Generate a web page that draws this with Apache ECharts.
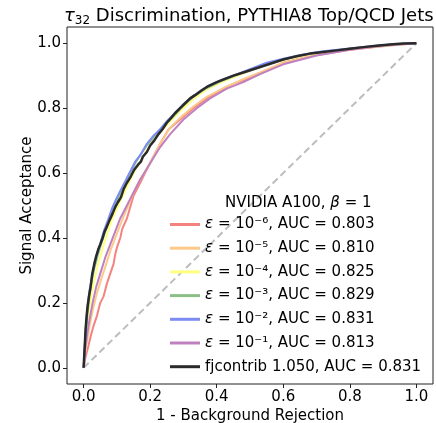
<!DOCTYPE html>
<html>
<head>
<meta charset="utf-8">
<script src="https://cdn.jsdelivr.net/npm/echarts@6/dist/echarts.min.js"></script>
<style>
  html, body { margin: 0; padding: 0; background: #fff; }
  #chart { width: 436px; height: 423px; }
</style>
</head>
<body>
<div id="chart"></div>
<script>
// ROC curves: x = 1 - background rejection, y = signal acceptance

const tickValues = [0.0, 0.2, 0.4, 0.6, 0.8, 1.0]

// eps = 1e-6
const bkgE6 = [0, 0.005, 0.01, 0.015, 0.022, 0.03, 0.04, 0.05, 0.06, 0.07, 0.08, 0.09, 0.095, 0.1, 0.11, 0.116, 0.13, 0.15, 0.17, 0.2, 0.23, 0.255, 0.29, 0.33, 0.37, 0.41, 0.45, 0.5, 0.55, 0.6, 0.68, 0.8, 0.92, 1.0]
const sigE6 = [0, 0.03, 0.05, 0.07, 0.10, 0.13, 0.16, 0.20, 0.22, 0.26, 0.29, 0.32, 0.35, 0.37, 0.40, 0.428, 0.46, 0.53, 0.57, 0.632, 0.69, 0.734, 0.765, 0.80, 0.83, 0.855, 0.875, 0.893, 0.915, 0.94, 0.96, 0.98, 0.993, 1.0]

// eps = 1e-5
const bkgE5 = [0, 0.004, 0.01, 0.018, 0.028, 0.04, 0.055, 0.065, 0.08, 0.095, 0.11, 0.13, 0.15, 0.17, 0.2, 0.23, 0.26, 0.29, 0.33, 0.37, 0.42, 0.47, 0.53, 0.6, 0.7, 0.8, 0.9, 1.0]
const sigE5 = [0, 0.04, 0.08, 0.13, 0.18, 0.23, 0.28, 0.31, 0.36, 0.40, 0.44, 0.49, 0.54, 0.58, 0.63, 0.69, 0.74, 0.77, 0.805, 0.835, 0.862, 0.885, 0.91, 0.94, 0.965, 0.98, 0.992, 1.0]

// eps = 1e-4, 1e-3, 1e-2 share the same x samples
const bkgMid = [0, 0.003, 0.007, 0.012, 0.018, 0.025, 0.033, 0.042, 0.052, 0.062, 0.073, 0.085, 0.098, 0.11, 0.125, 0.14, 0.155, 0.17, 0.19, 0.21, 0.23, 0.25, 0.275, 0.3, 0.33, 0.37, 0.41, 0.45, 0.5, 0.55, 0.6, 0.66, 0.72, 0.8, 0.88, 0.95, 1.0]
const sigE4 = [0, 0.04, 0.09, 0.14, 0.19, 0.235, 0.275, 0.315, 0.35, 0.385, 0.42, 0.455, 0.485, 0.515, 0.545, 0.58, 0.61, 0.635, 0.67, 0.70, 0.725, 0.748, 0.775, 0.80, 0.828, 0.858, 0.878, 0.895, 0.915, 0.935, 0.948, 0.962, 0.973, 0.983, 0.991, 0.997, 1.0]
const sigE3 = [0, 0.05, 0.11, 0.17, 0.225, 0.27, 0.31, 0.345, 0.38, 0.41, 0.445, 0.48, 0.51, 0.54, 0.57, 0.60, 0.63, 0.655, 0.685, 0.71, 0.73, 0.755, 0.78, 0.808, 0.835, 0.862, 0.882, 0.898, 0.918, 0.938, 0.95, 0.964, 0.974, 0.983, 0.991, 0.997, 1.0]
const sigE2 = [0, 0.06, 0.13, 0.19, 0.24, 0.28, 0.32, 0.355, 0.39, 0.425, 0.455, 0.49, 0.52, 0.545, 0.575, 0.605, 0.635, 0.655, 0.69, 0.715, 0.735, 0.76, 0.785, 0.812, 0.838, 0.866, 0.885, 0.90, 0.92, 0.94, 0.952, 0.965, 0.975, 0.984, 0.992, 0.998, 1.0]

// eps = 1e-1
const bkgE1 = [0, 0.004, 0.01, 0.018, 0.027, 0.038, 0.05, 0.065, 0.08, 0.095, 0.11, 0.13, 0.15, 0.17, 0.2, 0.23, 0.26, 0.3, 0.34, 0.38, 0.43, 0.48, 0.53, 0.6, 0.7, 0.8, 0.9, 1.0]
const sigE1 = [0, 0.05, 0.10, 0.15, 0.20, 0.25, 0.29, 0.34, 0.38, 0.42, 0.46, 0.50, 0.54, 0.58, 0.63, 0.68, 0.72, 0.765, 0.80, 0.83, 0.86, 0.88, 0.905, 0.935, 0.962, 0.98, 0.993, 1.0]

// fjcontrib reference
const bkgFj = [0, 0.002, 0.004, 0.006, 0.009, 0.012, 0.016, 0.021, 0.026, 0.032, 0.038, 0.044, 0.05, 0.057, 0.063, 0.07, 0.078, 0.087, 0.095, 0.103, 0.112, 0.12, 0.13, 0.142, 0.152, 0.163, 0.172, 0.178, 0.19, 0.2, 0.212, 0.225, 0.237, 0.25, 0.263, 0.275, 0.29, 0.305, 0.32, 0.335, 0.355, 0.375, 0.4, 0.425, 0.45, 0.48, 0.51, 0.54, 0.57, 0.6, 0.64, 0.68, 0.72, 0.76, 0.8, 0.84, 0.88, 0.92, 0.96, 1.0]
const sigFj = [0, 0.04, 0.08, 0.12, 0.16, 0.19, 0.22, 0.25, 0.29, 0.32, 0.345, 0.365, 0.38, 0.40, 0.42, 0.435, 0.455, 0.475, 0.495, 0.51, 0.525, 0.55, 0.57, 0.59, 0.61, 0.625, 0.635, 0.65, 0.665, 0.685, 0.70, 0.72, 0.735, 0.755, 0.77, 0.785, 0.80, 0.815, 0.83, 0.84, 0.855, 0.868, 0.88, 0.89, 0.90, 0.91, 0.92, 0.93, 0.94, 0.95, 0.96, 0.968, 0.973, 0.978, 0.983, 0.988, 0.992, 0.996, 0.999, 1.0]

const diagX = [0, 1]
const diagY = [0, 1]

const zip = (xs, ys) => xs.map((x, i) => [x, ys[i]])

const curves = [
  { name: 'e6', label: '{i|ε} = 10⁻⁶, AUC = 0.803', color: '#f4837f', xs: bkgE6, ys: sigE6, w: 2 },
  { name: 'e5', label: '{i|ε} = 10⁻⁵, AUC = 0.810', color: '#fcc98a', xs: bkgE5, ys: sigE5, w: 2 },
  { name: 'e4', label: '{i|ε} = 10⁻⁴, AUC = 0.825', color: '#ffff80', xs: bkgMid, ys: sigE4, w: 2 },
  { name: 'e3', label: '{i|ε} = 10⁻³, AUC = 0.829', color: '#8cbf88', xs: bkgMid, ys: sigE3, w: 2 },
  { name: 'e2', label: '{i|ε} = 10⁻², AUC = 0.831', color: '#7d8cf5', xs: bkgMid, ys: sigE2, w: 2 },
  { name: 'e1', label: '{i|ε} = 10⁻¹, AUC = 0.813', color: '#bf80bf', xs: bkgE1, ys: sigE1, w: 2 },
  { name: 'fj', label: 'fjcontrib 1.050, AUC = 0.831', color: '#2a2a2a', xs: bkgFj, ys: sigFj, w: 2.5 }
]
const labelMap = {}
curves.forEach(c => { labelMap[c.name] = c.label })

const chart = echarts.init(document.getElementById('chart'))

const font = 'DejaVu Sans'

const axisCommon = {
  type: 'value',
  min: -0.05,
  max: 1.05,
  nameLocation: 'middle',
  nameMoveOverlap: false,
  nameTextStyle: { fontFamily: font, fontSize: 15, color: '#000' },
  axisLine: { show: false, onZero: false },
  splitLine: { show: false },
  axisTick: { show: true, length: 4, customValues: tickValues, lineStyle: { color: '#222' } },
  axisLabel: { customValues: tickValues, fontFamily: font, fontSize: 15, color: '#000', margin: 6, formatter: v => v.toFixed(1) }
}

chart.setOption({
  animation: false,
  textStyle: { fontFamily: font },
  title: [
    {
      text: '{t|τ}{s|32} Discrimination, PYTHIA8 Top/QCD Jets',
      left: 59,
      top: 1,
      textStyle: {
        fontFamily: font, fontSize: 18, fontWeight: 'normal', color: '#000',
        rich: {
          t: { fontFamily: font, fontSize: 18, fontStyle: 'italic', color: '#000' },
          s: { fontFamily: font, fontSize: 12, color: '#000', verticalAlign: 'bottom', padding: [9, 0, 0, 0] }
        }
      }
    },
    {
      text: 'NVIDIA A100, {i|β} = 1',
      left: 220,
      top: 191,
      textStyle: {
        fontFamily: font, fontSize: 15, fontWeight: 'normal', color: '#000',
        rich: { i: { fontFamily: font, fontSize: 15, fontStyle: 'italic', color: '#000' } }
      }
    }
  ],
  grid: {
    left: 67, right: 3, top: 27, bottom: 39,
    outerBoundsMode: 'none',
    show: true, borderColor: '#222', borderWidth: 1, backgroundColor: 'transparent'
  },
  legend: {
    orient: 'vertical',
    left: 165,
    top: 211,
    icon: 'rect',
    itemWidth: 30,
    itemHeight: 3,
    itemGap: 6.7,
    data: curves.map(c => c.name),
    formatter: name => labelMap[name],
    textStyle: {
      fontFamily: font, fontSize: 15, color: '#000', lineHeight: 17,
      rich: { i: { fontFamily: font, fontSize: 15, fontStyle: 'italic', color: '#000' } }
    }
  },
  xAxis: Object.assign({}, axisCommon, { name: '1 - Background Rejection', nameGap: 25 }),
  yAxis: Object.assign({}, axisCommon, { name: 'Signal Acceptance', nameGap: 32 }),
  series: [
    {
      name: 'diag',
      type: 'line',
      data: zip(diagX, diagY),
      showSymbol: false,
      silent: true,
      lineStyle: { color: '#bdbdbd', width: 2, type: [7, 4] }
    }
  ].concat(curves.map(c => ({
    name: c.name,
    type: 'line',
    data: zip(c.xs, c.ys),
    showSymbol: false,
    itemStyle: { color: c.color },
    lineStyle: { color: c.color, width: c.w }
  })))
})
</script>
</body>
</html>
